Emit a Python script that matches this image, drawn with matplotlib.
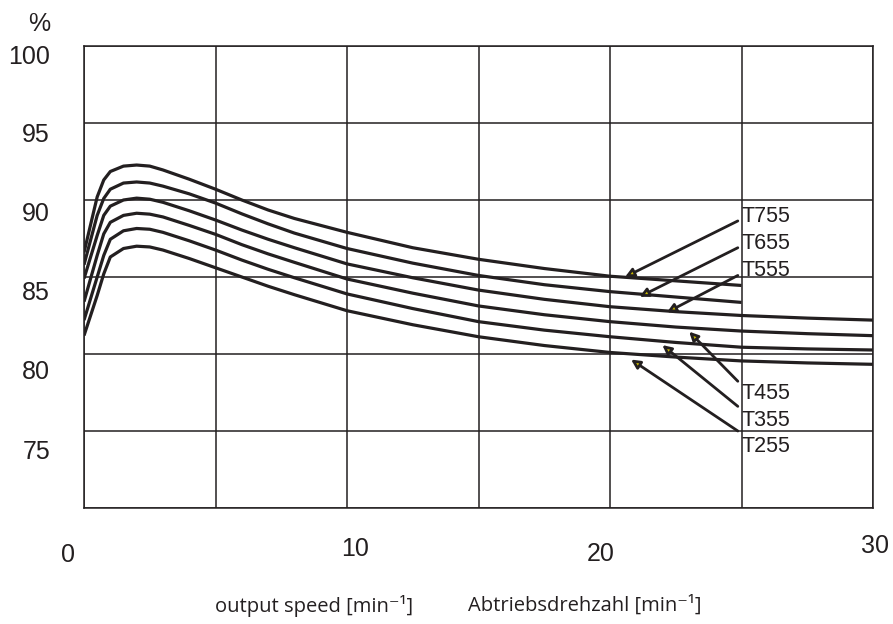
import matplotlib
matplotlib.use("Agg")
import matplotlib.pyplot as plt
import matplotlib.transforms as mtransforms

# speed points (min^-1) at which the curves were read
speed = [0, 0.25, 0.5, 0.75, 1, 1.5, 2, 2.5, 3, 4, 5, 6, 7, 8, 10,
         12.5, 15, 17.5, 20, 22.5, 25, 27.5, 30]

# efficiency (%) per gearbox size
t755 = [86.6, 88.4, 90.2, 91.3, 91.85, 92.2, 92.27, 92.2, 91.95, 91.35, 90.7,
        90.0, 89.35, 88.8, 87.9, 86.9, 86.15, 85.55, 85.05, 84.75, 84.45]
t655 = [85.8, 87.4, 89.0, 90.1, 90.7, 91.1, 91.17, 91.1, 90.9, 90.4, 89.8,
        89.1, 88.45, 87.85, 86.85, 85.9, 85.1, 84.5, 84.05, 83.7, 83.35]
t555 = [84.9, 86.3, 87.7, 89.0, 89.6, 90.0, 90.12, 90.05, 89.85, 89.3, 88.7,
        88.05, 87.45, 86.9, 85.85, 84.95, 84.15, 83.55, 83.07, 82.75, 82.5,
        82.33, 82.2]
t455 = [83.4, 84.9, 86.4, 87.8, 88.55, 89.0, 89.14, 89.08, 88.9, 88.35, 87.77,
        87.1, 86.5, 85.95, 84.87, 83.95, 83.12, 82.55, 82.1, 81.75, 81.49,
        81.32, 81.19]
t355 = [82.2, 83.6, 85.0, 86.4, 87.45, 88.0, 88.15, 88.1, 87.9, 87.35, 86.75,
        86.1, 85.5, 84.95, 83.9, 82.95, 82.1, 81.55, 81.12, 80.75, 80.44,
        80.33, 80.26]
t255 = [81.2, 82.5, 83.8, 85.2, 86.3, 86.85, 87.0, 86.95, 86.75, 86.2, 85.6,
        85.0, 84.4, 83.85, 82.81, 81.9, 81.12, 80.55, 80.1, 79.8, 79.55,
        79.42, 79.33]

series = [t755, t655, t555, t455, t355, t255]
labels = ["T755", "T655", "T555", "T455", "T355", "T255"]

# arrow tips on the curves and arrow tails next to the labels
tip_x = [20.57, 21.12, 22.16, 23.01, 21.99, 20.8]
tip_y = [85.0, 83.71, 82.7, 81.45, 80.58, 79.64]
tail_x = [24.86, 24.86, 24.86, 24.86, 24.86, 24.86]
tail_y = [88.64, 86.9, 85.1, 78.23, 76.6, 75.0]
label_y = [88.95, 87.2, 85.45, 77.45, 75.7, 74.0]

yticks = [100, 95, 90, 85, 80, 75]
xticks = [0, 10, 20, 30]

ink = "#231f20"

fig = plt.figure(figsize=(8.93, 6.24), dpi=100)
ax = fig.add_axes([0.0941, 0.1859, 0.8835, 0.7404])
ax.set_xlim(0, 30)
ax.set_ylim(70, 100)
ax.set_xticks(range(0, 31, 5))
ax.set_yticks(range(70, 101, 5))
ax.grid(True, color=ink, lw=1.1)
ax.tick_params(length=0, labelbottom=False, labelleft=False)
for sp in ax.spines.values():
    sp.set_color(ink)
    sp.set_linewidth(1.1)

for vals in series:
    ax.plot(speed[:len(vals)], vals, color=ink, lw=2.3, solid_capstyle="butt")

for i, lab in enumerate(labels):
    ax.annotate("", xy=(tip_x[i], tip_y[i]), xytext=(tail_x[i], tail_y[i]),
                arrowprops=dict(arrowstyle="-|>", mutation_scale=13, lw=2.0,
                                color=ink, fc="#c9b800", ec=ink,
                                shrinkA=0, shrinkB=0))
    ax.text(25.0, label_y[i], lab, fontsize=15.5, family="Liberation Sans",
            color=ink, ha="left", va="center")

# y tick labels sit a little below their grid lines (drift grows downwards)
ylab = mtransforms.blended_transform_factory(ax.transAxes, ax.transData)
y_drop = [0.11, 0.12, 0.14, 0.16, 0.18, 0.21]
for v, d in zip(yticks, y_drop):
    down = mtransforms.ScaledTranslation(0, -d, fig.dpi_scale_trans)
    ax.text(-0.043, v, str(v), transform=ylab + down, ha="right", va="center",
            fontsize=18, family="Liberation Sans", color=ink)
ax.text(-0.043, 101.45, "%", transform=ylab, ha="right", va="center",
        fontsize=18, family="Liberation Sans", color=ink, clip_on=False)

# x tick labels, slightly scattered as in the original print
xlab = mtransforms.blended_transform_factory(ax.transData, ax.transAxes)
x_shift = [-0.16, 0.08, -0.09, 0.02]
y_pos = [-0.102, -0.088, -0.1, -0.082]
for v, dx, yy in zip(xticks, x_shift, y_pos):
    off = mtransforms.ScaledTranslation(dx, 0, fig.dpi_scale_trans)
    ax.text(v, yy, str(v), transform=xlab + off, ha="center", va="center",
            fontsize=18, family=["Liberation Sans Narrow", "Liberation Sans"],
            color=ink)

lab_font = dict(fontsize=14.5, family=["Open Sans", "DejaVu Sans"], color=ink,
                va="center")
fig.text(413 / 893, 0.029, "output speed [min\u207b\u00b9]", ha="right", **lab_font)
fig.text(468 / 893, 0.029, "Abtriebsdrehzahl [min\u207b\u00b9]", ha="left", **lab_font)

fig.savefig("out.png", dpi=100)
